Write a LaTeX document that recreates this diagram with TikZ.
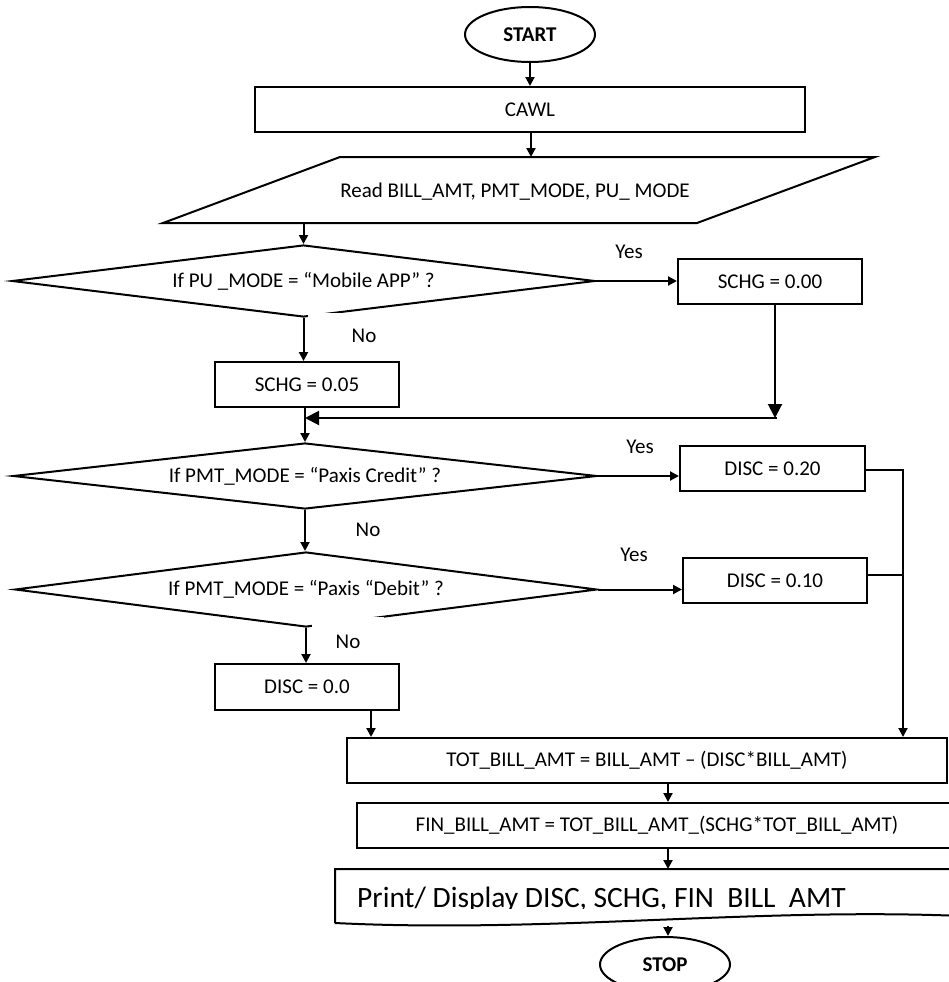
\documentclass[tikz,border=0pt]{standalone}
\usepackage{fontspec}
\setmainfont{Carlito}
\usetikzlibrary{arrows.meta,shapes.geometric}
\begin{document}
\begin{tikzpicture}[x=1pt,y=-1pt,
  every node/.style={font=\fontsize{21}{25}\selectfont, inner sep=0pt},
  box/.style={draw, rectangle, line width=2pt, minimum height=45pt},
  dec/.style={draw, diamond, aspect=8, line width=2pt},
  term/.style={draw, ellipse, line width=2pt, minimum width=130pt, minimum height=55pt, font=\fontsize{21}{25}\selectfont\bfseries},
  arr/.style={line width=2pt, -{Triangle[length=9pt,width=9pt]}},
  bigarr/.style={line width=2pt, -{Triangle[length=14pt,width=14pt]}},
  conn/.style={line width=2pt},
  shp/.style={line width=2pt},
  nolbl/.style={fill=white}
]
\useasboundingbox (0,0) rectangle (949,982);
\clip (0,0) rectangle (949,982);

% nodes
\node[term] (start) at (530,34.5) {START};
\node[box, minimum width=550pt] (cawl) at (530,109.5) {CAWL};
\coordinate (rTL) at (340,157);
\coordinate (rTR) at (875,157);
\coordinate (rBR) at (697,223);
\coordinate (rBL) at (163,223);
\draw[shp] (rTL) -- (rTR) -- (rBR) -- (rBL) -- cycle;
\node (read) at (515,192) {Read BILL\_AMT, PMT\_MODE, PU\_ MODE};

\node[dec, minimum width=583pt, minimum height=72pt] (d1) at (303.5,281) {If PU \_MODE = “Mobile APP” ?};
\node[dec, minimum width=584pt, minimum height=66pt] (d2) at (305,476) {If PMT\_MODE = “Paxis Credit” ?};
\node[dec, minimum width=582pt, minimum height=75pt] (d3) at (306,589.5) {If PMT\_MODE = “Paxis “Debit” ?};

% "No" labels (white text boxes that cut the diamond edges)
\node[nolbl, minimum width=112pt, minimum height=46pt] (n1) at (364,336) {No};
\node[nolbl, minimum width=30pt, minimum height=40pt] (n2) at (368,530) {No};
\node[nolbl, minimum width=72pt, minimum height=50pt] (n3) at (348,642) {No};

\node[box, minimum width=184pt] (s00) at (770,281.5) {SCHG = 0.00};
\node[box, minimum width=184pt] (s05) at (307,384.5) {SCHG = 0.05};
\node[box, minimum width=185pt] (c20) at (772.5,468.5) {DISC = 0.20};
\node[box, minimum width=184pt] (c10) at (775,580.5) {DISC = 0.10};
\node[box, minimum width=184pt, minimum height=46pt] (c00) at (307,687) {DISC = 0.0};
\node[box, minimum width=600pt] (tot) at (647,760.5) {TOT\_BILL\_AMT = BILL\_AMT – (DISC*BILL\_AMT)};
\node[box, minimum width=600pt] (fin) at (657,825.5) {FIN\_BILL\_AMT = TOT\_BILL\_AMT\_(SCHG*TOT\_BILL\_AMT)};

% print / display (document shape)
\coordinate (ptop) at (668,869);
\coordinate (pbot) at (668,926);
\draw[shp] (335,923) -- (335,869) -- (1000,869) -- (1000,918)
  .. controls (780,904) and (560,934) .. (335,923);
\begin{scope}
  \clip (330,872) rectangle (949,908);
  \node[anchor=base west, font=\fontsize{29.5}{34}\selectfont] (print) at (357,907) {Print/ Display DISC, SCHG, FIN\ \ BILL\ \ AMT};
\end{scope}

\node[term] (stop) at (665,964.5) {STOP};

% "Yes" labels
\node (y1) at (629,252) {Yes};
\node (y2) at (640,447) {Yes};
\node (y3) at (634,555) {Yes};

% connectors
\coordinate (mgy) at (0,418);
\coordinate (rx) at (903,0);
\coordinate (ax) at (668,0);
\draw[arr] (start) -- (cawl);
\draw[arr] ([xshift=1pt]cawl.south) -- ([xshift=1pt]cawl.south |- rTL);
\draw[arr] (d1.north |- rBL) -- (d1.north);
\draw[arr] (d1.east) -- (d1.east -| s00.west);
\draw[arr] (d1.south) -- (d1.south |- s05.north);
\draw[arr] (d2.north |- s05.south) -- (d2.north);
\draw[bigarr] ([xshift=5pt]s00.south) -- ([xshift=5pt]s00.south |- mgy);
\draw[bigarr] ([xshift=7pt]s00.south |- mgy) -- (d2.north |- mgy);
\draw[arr] (d2.east) -- (d2.east -| c20.west);
\draw[arr] (d2.south) -- (d2.south |- d3.north);
\draw[arr] (d3.east) -- (d3.east -| c10.west);
\draw[arr] (d3.south) -- (d3.south |- c00.north);
\draw[arr] ([xshift=64pt]c00.south) -- ([xshift=64pt]c00.south |- tot.north);
\draw[arr] ([yshift=-1.5pt]c20.east) -- ([yshift=-1.5pt]c20.east -| rx) -- (rx |- tot.north);
\draw[conn] ([yshift=5.5pt]c10.east) -- ([yshift=5.5pt]c10.east -| rx);
\draw[arr] (ax |- tot.south) -- (ax |- fin.north);
\draw[arr] (ax |- fin.south) -- (ax |- ptop);
\draw[arr] (ax |- pbot) -- (ax |- stop.north);
\end{tikzpicture}
\end{document}
